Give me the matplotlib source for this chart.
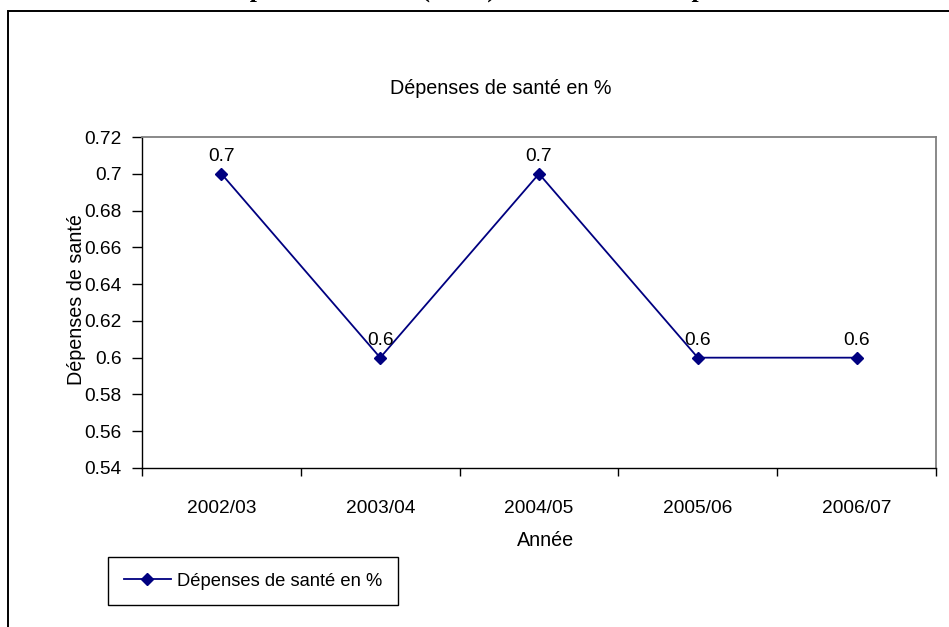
import matplotlib
matplotlib.use("Agg")
import matplotlib.pyplot as plt
from matplotlib.patches import Rectangle

years = ["2002/03", "2003/04", "2004/05", "2005/06", "2006/07"]
spending = [0.7, 0.6, 0.7, 0.6, 0.6]
y_ticks = [0.54, 0.56, 0.58, 0.60, 0.62, 0.64, 0.66, 0.68, 0.70, 0.72]
y_tick_labels = ["0.54", "0.56", "0.58", "0.6", "0.62", "0.64", "0.66", "0.68", "0.7", "0.72"]

page_title = "Dépenses de santé (en %) sur le total des dépenses"
chart_title = "Dépenses de santé en %"
series_name = "Dépenses de santé en %"
x_title = "Année"
y_title = "Dépenses de santé"

W, H = 949, 627
plt.rcParams["font.family"] = ["Liberation Sans", "DejaVu Sans"]
FS = 14.2        # titles
FS_TICK = 13.8   # tick and value labels
FS_LEG = 13.2    # legend entry
navy = "#000080"

fig = plt.figure(figsize=(W / 100, H / 100), dpi=100)

def fx(px):
    return px / W

def fy(py):
    return 1 - py / H

# page heading (serif bold) sitting above the chart frame, cut by the page top
heading_props = dict(fontsize=18.4, fontweight="bold", family="Liberation Serif")
renderer = fig.canvas.get_renderer()
probe = fig.text(0, 0, "Dé", **heading_props)
prefix_w = probe.get_window_extent(renderer).width
probe.remove()
fig.text(fx(250 - prefix_w), fy(-3.5), page_title, ha="left", va="baseline",
         **heading_props)

# outer chart frame
fig.patches.append(Rectangle((fx(8), fy(700)), 2.0, fy(11.5) - fy(700),
                             transform=fig.transFigure, fill=False,
                             edgecolor="black", linewidth=1.4))

ax = fig.add_axes([fx(142), fy(468), fx(936) - fx(142), fy(137) - fy(468)])
x = list(range(len(years)))
line, = ax.plot(x, spending, color=navy, linewidth=1.3, marker="D",
                markersize=6, markerfacecolor=navy, markeredgecolor=navy,
                label=series_name, clip_on=False)

for xi, v in zip(x, spending):
    ax.annotate(f"{v:g}", (xi, v), xytext=(0, 9), textcoords="offset points",
                ha="center", va="baseline", fontsize=FS_TICK)

ax.set_xlim(-0.5, len(years) - 0.5)
ax.set_ylim(0.54, 0.72)
ax.set_yticks(y_ticks)
ax.set_yticklabels(y_tick_labels, fontsize=FS_TICK)
ax.set_xticks(x)
ax.set_xticklabels(years, fontsize=FS_TICK)
ax.set_xticks([i - 0.5 for i in range(len(years) + 1)], minor=True)
ax.tick_params(axis="x", which="major", length=0, pad=23)
ax.tick_params(axis="x", which="minor", length=6, width=1, direction="out")
ax.tick_params(axis="y", which="major", length=7, width=1, direction="out", pad=7.5)

for side in ("top", "right"):
    ax.spines[side].set_color("#808080")
    ax.spines[side].set_linewidth(1.3)
for side in ("left", "bottom"):
    ax.spines[side].set_color("black")
    ax.spines[side].set_linewidth(1.0)

fig.text(fx(501), fy(88), chart_title, ha="center", va="center", fontsize=FS)
fig.text(fx(546), fy(541), x_title, ha="center", va="center", fontsize=FS)
fig.text(fx(77), fy(300), y_title, ha="center", va="center", rotation=90, fontsize=FS)

leg = fig.legend(handles=[line], loc="upper left",
                 bbox_to_anchor=(fx(108), fy(557)), borderaxespad=0,
                 fontsize=FS_LEG, frameon=True, fancybox=False, edgecolor="black",
                 framealpha=1, handlelength=2.6, handletextpad=0.3,
                 borderpad=0.85)
leg.get_frame().set_linewidth(1.0)

fig.savefig("out.png", dpi=100)
